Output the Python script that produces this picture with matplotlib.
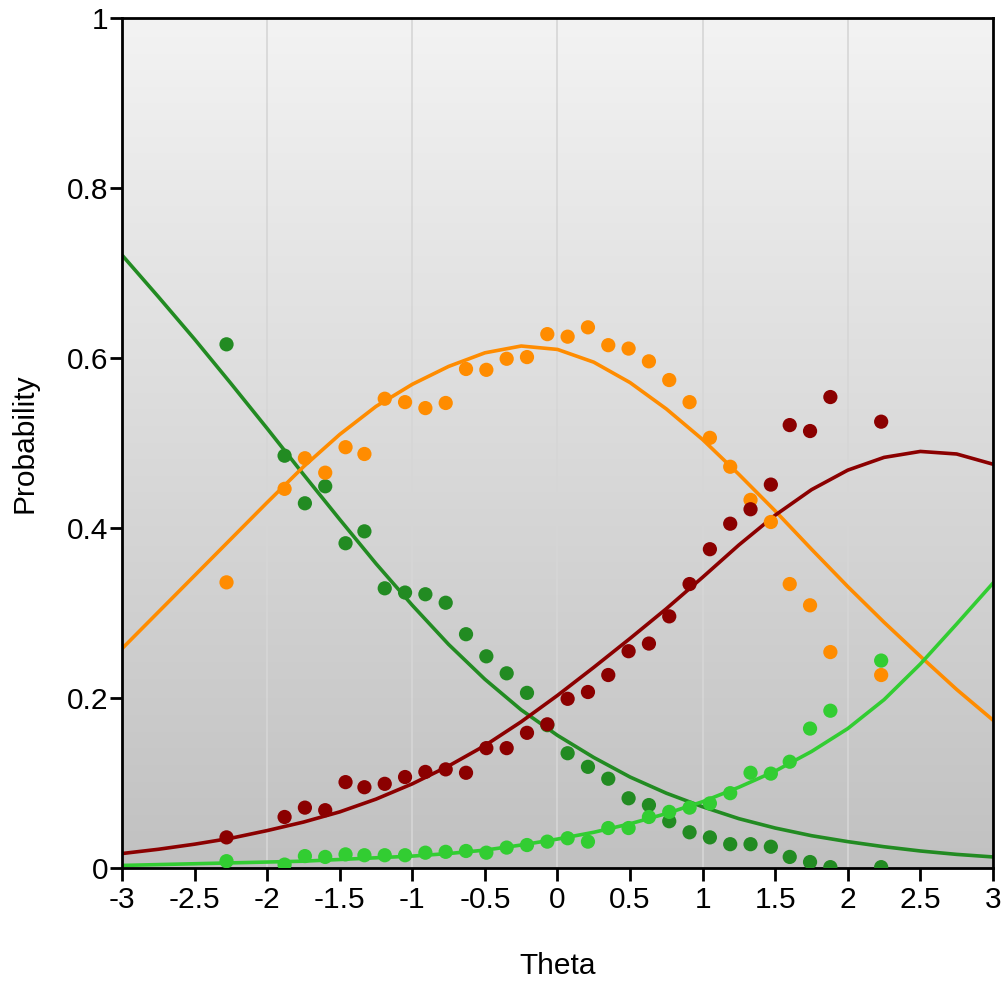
import numpy as np
import matplotlib
matplotlib.use("Agg")
import matplotlib.pyplot as plt

plt.rcParams["font.family"] = ["Liberation Sans", "DejaVu Sans"]
plt.rcParams["axes.unicode_minus"] = False

# ---- fitted category curves (at 0.25 steps) ----
theta_curve = [-3.0, -2.75, -2.5, -2.25, -2.0, -1.75, -1.5, -1.25, -1.0, -0.75, -0.5, -0.25,
               0.0, 0.25, 0.5, 0.75, 1.0, 1.25, 1.5, 1.75, 2.0, 2.25, 2.5, 2.75, 3.0]
curve_cat1 = [0.721, 0.672, 0.622, 0.570, 0.517, 0.463, 0.410, 0.358, 0.309, 0.263, 0.222, 0.186,
              0.156, 0.130, 0.107, 0.088, 0.072, 0.058, 0.047, 0.038, 0.031, 0.025, 0.020, 0.016, 0.013]
curve_cat2 = [0.258, 0.301, 0.344, 0.387, 0.430, 0.472, 0.510, 0.543, 0.569, 0.590, 0.606, 0.614,
              0.610, 0.595, 0.571, 0.540, 0.504, 0.463, 0.420, 0.375, 0.331, 0.289, 0.249, 0.210, 0.174]
curve_cat3 = [0.017, 0.022, 0.028, 0.035, 0.044, 0.054, 0.066, 0.081, 0.099, 0.120, 0.144, 0.172,
              0.203, 0.236, 0.270, 0.305, 0.342, 0.380, 0.415, 0.445, 0.468, 0.483, 0.490, 0.487, 0.475]
curve_cat4 = [0.003, 0.004, 0.005, 0.006, 0.007, 0.008, 0.010, 0.012, 0.014, 0.017, 0.021, 0.027,
              0.034, 0.042, 0.052, 0.064, 0.078, 0.095, 0.114, 0.137, 0.164, 0.198, 0.240, 0.287, 0.335]

# ---- observed proportions ----
theta_obs = [-2.28, -1.88, -1.74, -1.60, -1.46, -1.33, -1.19, -1.05, -0.91, -0.77, -0.63, -0.49,
             -0.35, -0.21, -0.07, 0.07, 0.21, 0.35, 0.49, 0.63, 0.77, 0.91, 1.05, 1.19, 1.33,
             1.47, 1.60, 1.74, 1.88, 2.23]
obs_cat1 = [0.616, 0.485, 0.429, 0.449, 0.382, 0.396, 0.329, 0.324, 0.322, 0.312, 0.275, 0.249,
            0.229, 0.206, 0.168, 0.135, 0.119, 0.105, 0.082, 0.074, 0.055, 0.042, 0.036, 0.028, 0.028,
            0.025, 0.013, 0.007, 0.001, 0.001]
obs_cat2 = [0.336, 0.446, 0.482, 0.465, 0.495, 0.487, 0.552, 0.548, 0.541, 0.547, 0.587, 0.586,
            0.599, 0.601, 0.628, 0.625, 0.636, 0.615, 0.611, 0.596, 0.574, 0.548, 0.506, 0.472, 0.433,
            0.407, 0.334, 0.309, 0.254, 0.227]
obs_cat3 = [0.036, 0.060, 0.071, 0.068, 0.101, 0.095, 0.099, 0.107, 0.113, 0.116, 0.112, 0.141,
            0.141, 0.159, 0.169, 0.199, 0.207, 0.227, 0.255, 0.264, 0.296, 0.334, 0.375, 0.405, 0.422,
            0.451, 0.521, 0.514, 0.554, 0.525]
obs_cat4 = [0.008, 0.004, 0.014, 0.013, 0.016, 0.015, 0.015, 0.015, 0.018, 0.019, 0.020, 0.018,
            0.024, 0.027, 0.031, 0.035, 0.031, 0.047, 0.047, 0.060, 0.066, 0.071, 0.076, 0.088, 0.112,
            0.111, 0.125, 0.164, 0.185, 0.244]

c1, c2, c3, c4 = "#228b22", "#ff8c00", "#8b0000", "#32cd32"

fig = plt.figure(figsize=(10.05, 9.83), dpi=100)
ax = fig.add_axes([0.1214, 0.117, 0.8666, 0.8648])

# vertical gradient background
grad = np.linspace(0, 1, 256).reshape(-1, 1)
ax.imshow(grad, extent=[-3, 3, 0, 1], aspect="auto", origin="lower",
          cmap=matplotlib.colors.LinearSegmentedColormap.from_list("bg", ["#c1c1c1", "#f3f3f3"]),
          zorder=0)
for g in [-2, -1, 0, 1, 2]:
    ax.axvline(g, color="#d6d6d6", lw=1.2, zorder=1)

for yv, col in [(curve_cat1, c1), (curve_cat2, c2), (curve_cat3, c3), (curve_cat4, c4)]:
    ax.plot(theta_curve, yv, color=col, lw=2.6, zorder=2, solid_joinstyle="round")

for yv, col in [(obs_cat1, c1), (obs_cat4, c4), (obs_cat2, c2), (obs_cat3, c3)]:
    ax.scatter(theta_obs, yv, s=105, color=col, edgecolors="none", zorder=3)

ax.set_xlim(-3, 3)
ax.set_ylim(0, 1)
xt = np.arange(-3, 3.01, 0.5)
ax.set_xticks(xt)
ax.set_xticklabels([f"{v:g}" for v in xt])
yt = [0, 0.2, 0.4, 0.6, 0.8, 1]
ax.set_yticks(yt)
ax.set_yticklabels([f"{v:g}" for v in yt])
ax.tick_params(axis="both", labelsize=21.5, length=9, width=2, direction="out")
ax.tick_params(axis="x", pad=4)
ax.tick_params(axis="y", pad=1)
for s in ax.spines.values():
    s.set_linewidth(2)
ax.set_xlabel("Theta", fontsize=21.5, labelpad=27)
ax.set_ylabel("Probability", fontsize=21.5, labelpad=20)

fig.savefig("out.png", dpi=100)
